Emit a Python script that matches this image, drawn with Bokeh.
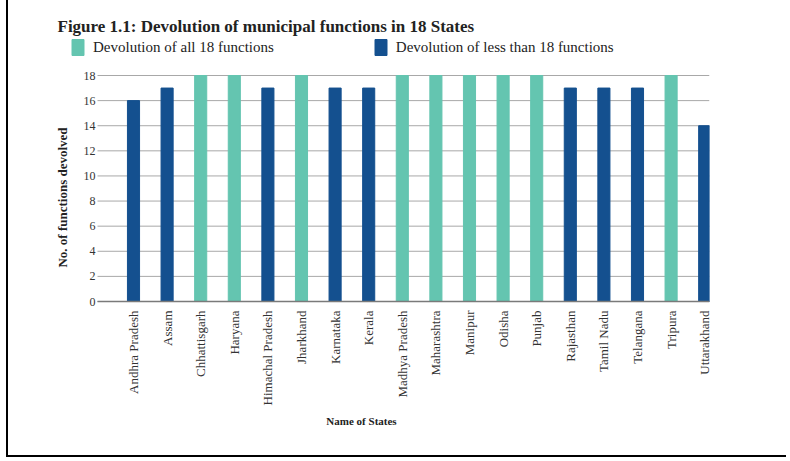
from math import pi
from bokeh.plotting import figure
from bokeh.models import (FixedTicker, Legend, LegendItem, Range1d, Label)
from bokeh.core.properties import value
from bokeh.embed import file_html
from bokeh.resources import INLINE

states = ["Andhra Pradesh", "Assam", "Chhattisgarh", "Haryana", "Himachal Pradesh",
          "Jharkhand", "Karnataka", "Kerala", "Madhya Pradesh", "Maharashtra",
          "Manipur", "Odisha", "Punjab", "Rajasthan", "Tamil Nadu", "Telangana",
          "Tripura", "Uttarakhand"]
functions_devolved = [16, 17, 18, 18, 17, 18, 17, 17, 18, 18, 18, 18, 18, 17, 17, 17, 18, 14]
y_ticks = [0, 2, 4, 6, 8, 10, 12, 14, 16, 18]
series_names = ["Devolution of all 18 functions", "Devolution of less than 18 functions"]
title_text = "Figure 1.1: Devolution of municipal functions in 18 States"
y_title = "No. of functions devolved"
x_title = "Name of States"

TEAL = "#64C5B0"
BLUE = "#14508F"
SERIF = "Liberation Serif"

# ---- layout geometry (canvas pixels; canvas starts 8px from the page's left) ----
OFF = 8
W, H = 780, 457
FRAME_L, FRAME_R, FRAME_T, FRAME_B = 5, 701, 0, 309
ZERO_PY = 301                     # canvas y of value 0
PPU = 226.0 / 18                  # pixels per unit of y
X0, X1 = -3.5714, 17.1429         # data x at frame edges
Y0 = -(FRAME_B - ZERO_PY) / PPU
Y1 = (ZERO_PY - FRAME_T) / PPU
GRID_L = 97 - OFF                 # where gridlines start


def dx(px):
    return X0 + (px - FRAME_L) * (X1 - X0) / (FRAME_R - FRAME_L)


def dy(py):
    return (ZERO_PY - py) / PPU


xs = list(range(len(states)))
full_x = [i for i, v in zip(xs, functions_devolved) if v == 18]
full_v = [v for v in functions_devolved if v == 18]
part_x = [i for i, v in zip(xs, functions_devolved) if v < 18]
part_v = [v for v in functions_devolved if v < 18]

p = figure(width=W, height=H, output_backend="svg", toolbar_location=None,
           x_range=Range1d(X0, X1), y_range=Range1d(Y0, Y1),
           min_border_left=FRAME_L, min_border_right=W - FRAME_R,
           min_border_top=FRAME_T, min_border_bottom=H - FRAME_B)
p.styles = {"border-left": "2px solid #000", "border-bottom": "2px solid #000",
            "margin-left": "6px"}
p.outline_line_color = None
p.background_fill_color = "white"
p.xgrid.grid_line_color = None
p.ygrid.grid_line_color = None
p.yaxis.visible = False

# gridlines (from the y ticks)
gx0 = dx(GRID_L)
p.segment(x0=[gx0] * len(y_ticks), x1=[X1] * len(y_ticks), y0=y_ticks, y1=y_ticks,
          line_color="#a8a8a8", line_width=1)

r_full = p.vbar(x=full_x, top=full_v, width=0.36, fill_color=TEAL, line_color=TEAL)
r_part = p.vbar(x=part_x, top=part_v, width=0.36, fill_color=BLUE, line_color=BLUE)

# baseline
p.segment(x0=[gx0], x1=[X1], y0=[0], y1=[0], line_color="#7a7a7a", line_width=1.5)

# y tick labels
p.text(x=[gx0] * len(y_ticks), y=y_ticks, text=[str(t) for t in y_ticks],
       x_offset=-2, text_align="right", text_baseline="middle",
       text_font=value(SERIF), text_font_size=value("12px"), text_color="#333333")

# y axis title
p.add_layout(Label(x=dx(61.5 - OFF), y=dy(197), text=y_title, angle=pi / 2,
                   text_align="center", text_baseline="middle",
                   text_font=SERIF, text_font_style="bold", text_font_size="13px",
                   text_color="#222222"))

# chart title
p.add_layout(Label(x=dx(57 - OFF), y=dy(26), text=title_text,
                   text_align="left", text_baseline="alphabetic",
                   text_font=SERIF, text_font_style="bold", text_font_size="17px",
                   text_color="#222222"))

# x axis
p.xaxis.ticker = FixedTicker(ticks=xs)
p.xaxis.major_label_overrides = {i: s for i, s in enumerate(states)}
p.xaxis.major_label_orientation = pi / 2
p.xaxis.major_label_text_font = SERIF
p.xaxis.major_label_text_font_size = "13px"
p.xaxis.major_label_text_color = "#333333"
p.xaxis.major_label_standoff = 1
p.xaxis.major_tick_line_color = None
p.xaxis.major_tick_out = 0
p.xaxis.major_tick_in = 0
p.xaxis.minor_tick_line_color = None
p.xaxis.minor_tick_out = 0
p.xaxis.axis_line_color = None
p.xaxis.axis_label = x_title
p.xaxis.axis_label_text_font = SERIF
p.xaxis.axis_label_text_font_style = "bold"
p.xaxis.axis_label_text_font_size = "11px"
p.xaxis.axis_label_text_color = "#222222"
p.xaxis.axis_label_standoff = 7

# legend (inside the tall frame, above the bars)
legend = Legend(items=[LegendItem(label=series_names[0], renderers=[r_full]),
                       LegendItem(label=series_names[1], renderers=[r_part])],
                location=(70 - OFF - FRAME_L, FRAME_B - 57), orientation="horizontal",
                glyph_width=15, glyph_height=20, label_standoff=8, spacing=99,
                padding=0, margin=0, border_line_color=None,
                background_fill_alpha=0, label_text_font=SERIF,
                label_text_font_size="15px", label_text_color="#222222",
                label_height=20)
p.add_layout(legend, "center")

open("out.html", "w").write(file_html(p, INLINE))
